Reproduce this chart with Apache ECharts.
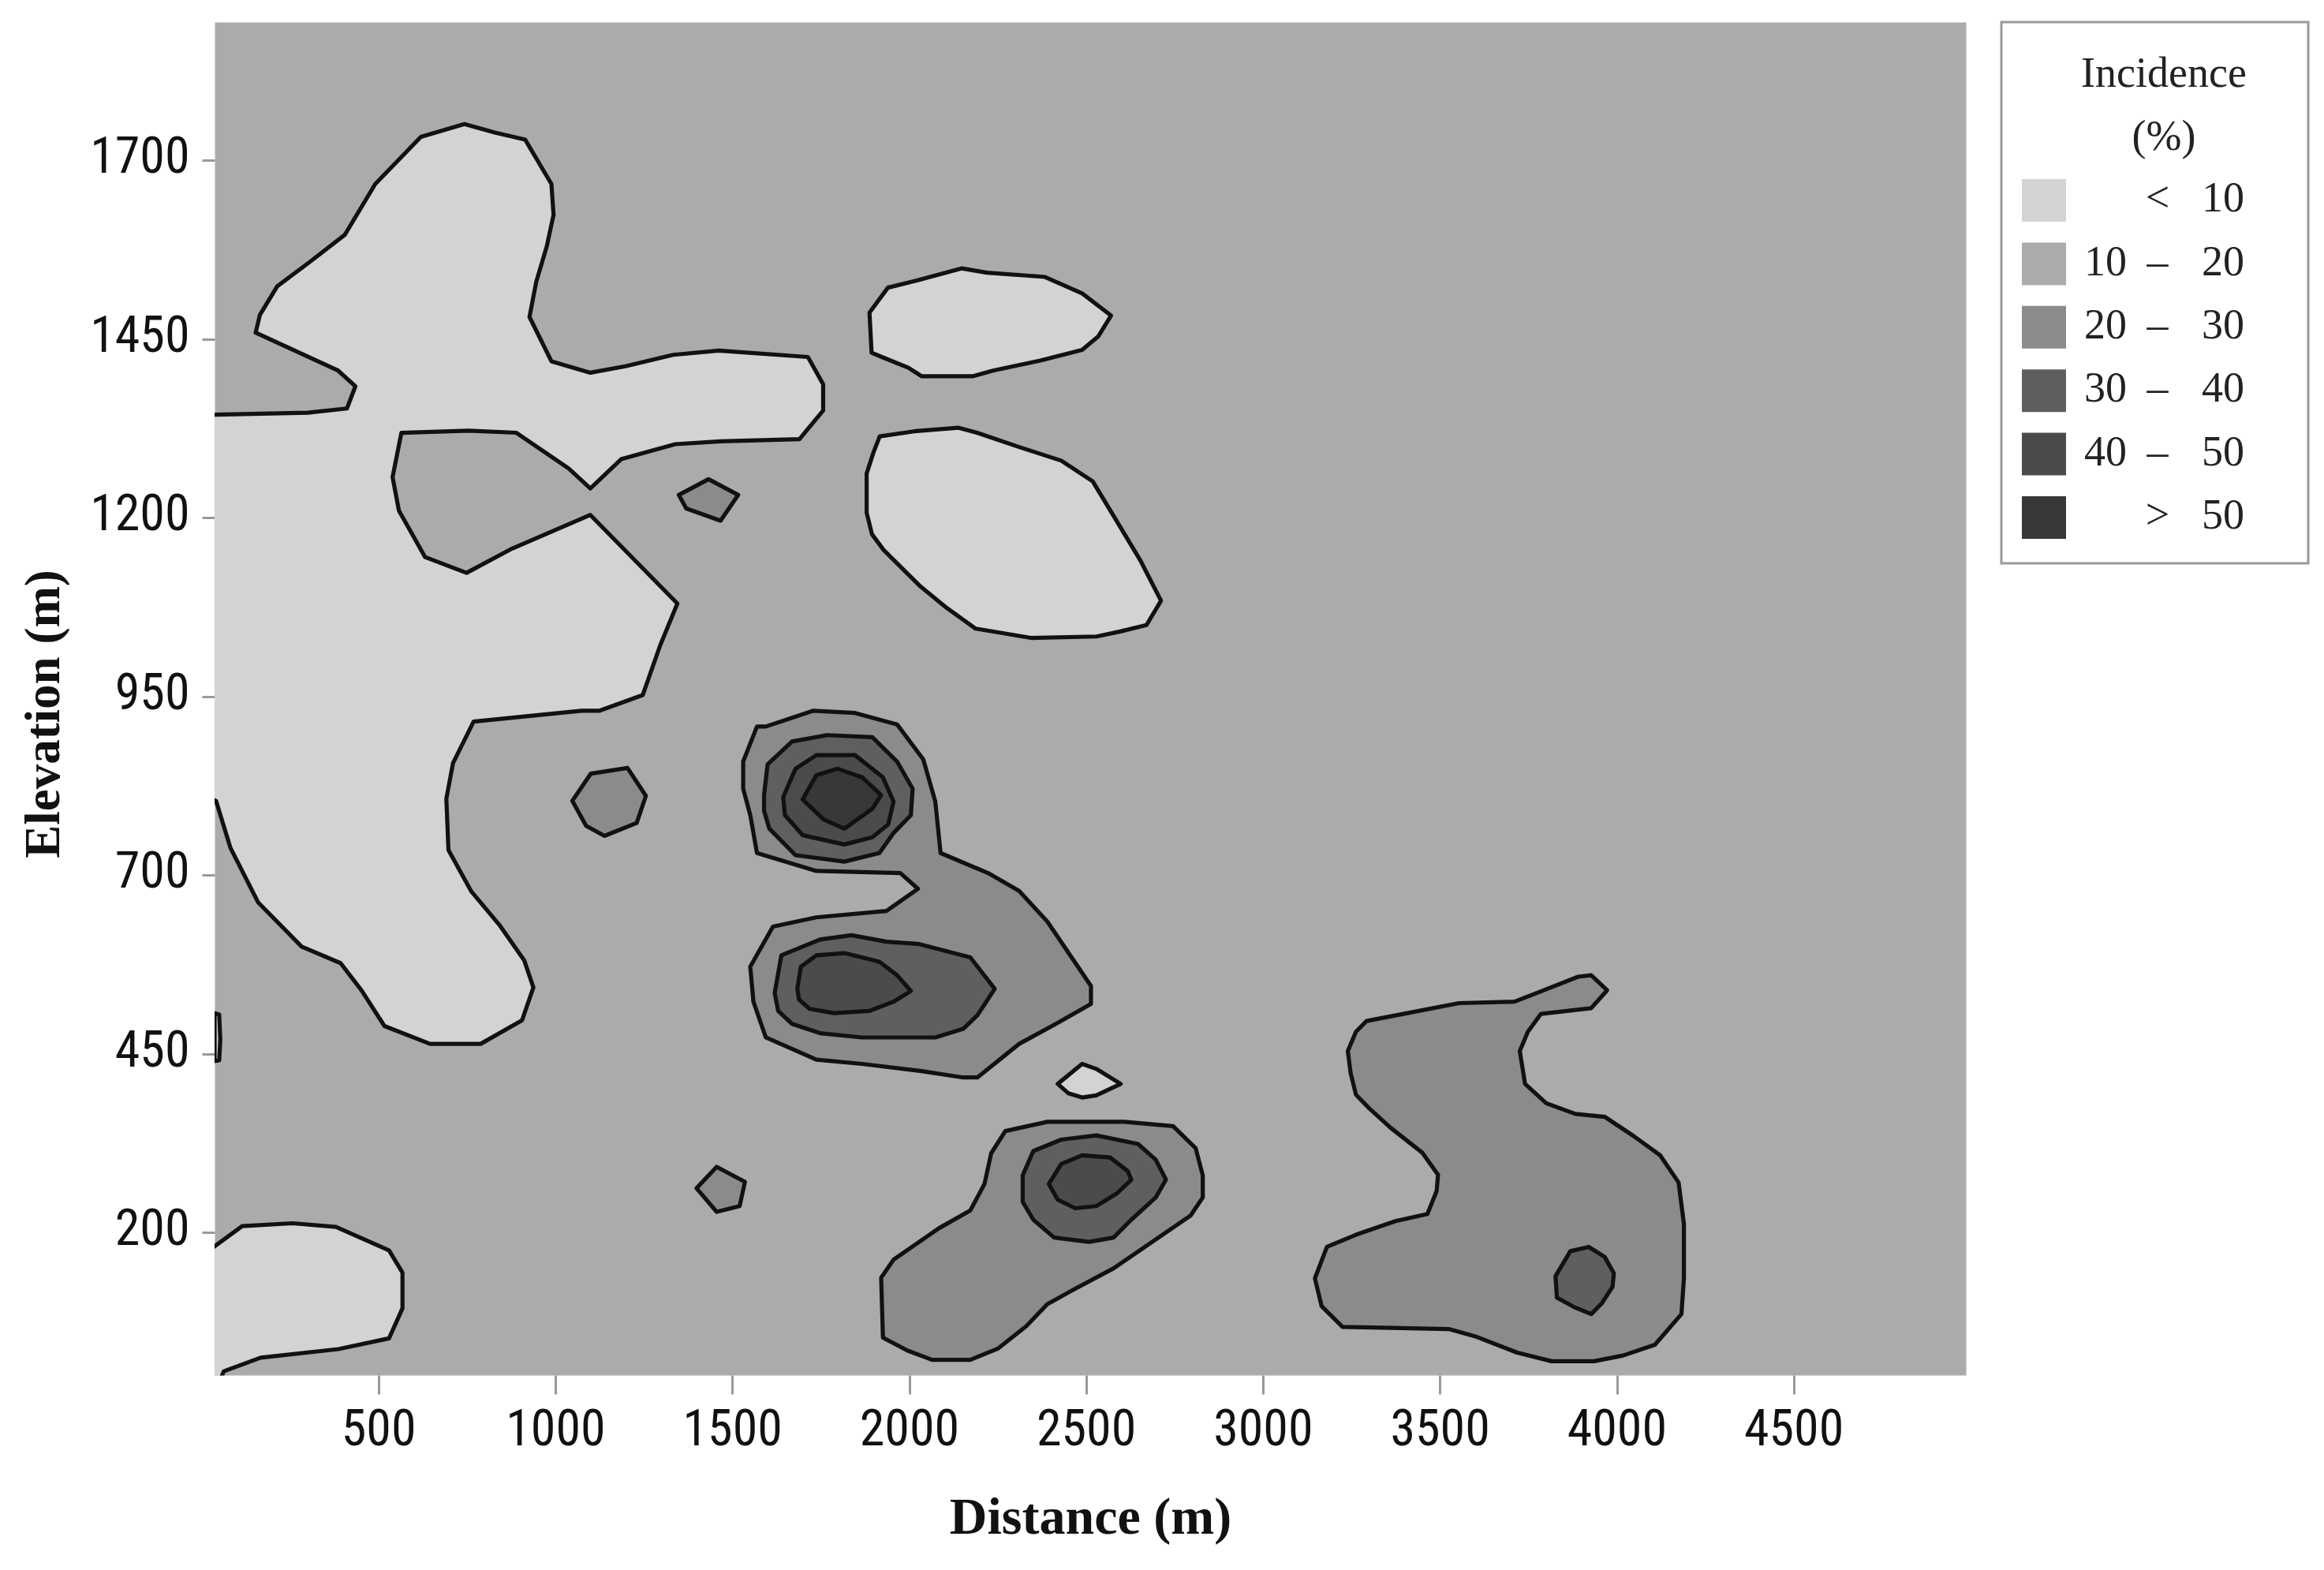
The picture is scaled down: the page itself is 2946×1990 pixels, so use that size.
<!DOCTYPE html>
<html><head><meta charset="utf-8">
<script src="https://cdn.jsdelivr.net/npm/echarts@6/dist/echarts.min.js"></script>
<style>html,body{margin:0;padding:0;background:#fff}#c{width:2946px;height:1990px}</style>
</head><body><div id="c"></div>
<script>
// Axis ticks (m)
const xTicks = [500, 1000, 1500, 2000, 2500, 3000, 3500, 4000, 4500];
const yTicks = [200, 450, 700, 950, 1200, 1450, 1700];
const xRange = [37, 4987];
const yRange = [0, 1893];

// Incidence classes (%)
const levelNames = ['< 10', '10 – 20', '20 – 30', '30 – 40', '40 – 50', '> 50'];
const legendLeft = ['', '10', '20', '30', '40', ''];
const legendSym = ['<', '–', '–', '–', '–', '>'];
const legendRight = ['10', '20', '30', '40', '50', '50'];
const levelColors = ['#d3d3d3', '#ababab', '#8b8b8b', '#5f5f5f', '#4b4b4b', '#383838'];

// Contour regions, [distance m, elevation m]
const below10 = [
  [[20,1344],[299,1347],[410,1353],[434,1384],[385,1406],[152,1459],[164,1484],[213,1524],[305,1558],[404,1596],[490,1667],[619,1733],[742,1751],[828,1739],[914,1729],[988,1667],[994,1624],[975,1580],[945,1530],[926,1481],[988,1419],[1098,1403],[1197,1412],[1332,1428],[1461,1434],[1713,1425],[1756,1387],[1756,1350],[1689,1310],[1467,1307],[1338,1303],[1185,1282],[1098,1241],[1037,1269],[889,1319],[754,1322],[564,1319],[539,1257],[557,1210],[631,1145],[748,1123],[877,1157],[1098,1204],[1344,1080],[1295,1021],[1246,952],[1123,930],[1073,930],[768,915],[710,857],[691,807],[697,735],[762,677],[840,631],[911,581],[937,543],[905,497],[788,464],[645,464],[516,489],[451,539],[392,577],[282,600],[159,662],[81,738],[40,804],[20,808]],
  [[20,175],[114,209],[256,213],[379,208],[529,175],[567,144],[567,94],[529,52],[386,37],[166,25],[62,6],[45,-15],[20,-15]],
  [[1887,1487],[1939,1522],[2021,1532],[2147,1549],[2219,1543],[2383,1537],[2488,1514],[2570,1483],[2534,1454],[2488,1435],[2370,1420],[2236,1406],[2178,1398],[2035,1398],[1997,1410],[1922,1425],[1893,1431]],
  [[1916,1314],[2013,1321],[2139,1326],[2191,1319],[2310,1299],[2429,1280],[2518,1251],[2585,1196],[2652,1141],[2711,1084],[2670,1050],[2596,1041],[2529,1034],[2343,1032],[2187,1045],[2105,1074],[2031,1104],[1927,1155],[1894,1177],[1879,1207],[1879,1262],[1898,1291]],
  [[2419,408],[2488,436],[2528,429],[2597,408],[2528,392],[2488,389],[2449,395]],
  [[36,507],[49,505],[52,470],[49,441],[36,440]]
];
const from20to30 = [
  [[1530,859],[1569,908],[1594,908],[1727,930],[1846,927],[1965,911],[2039,862],[2073,803],[2088,731],[2222,703],[2310,678],[2390,635],[2513,545],[2513,520],[2414,492],[2310,464],[2192,417],[2152,417],[2034,426],[1866,436],[1737,442],[1594,473],[1559,523],[1550,572],[1614,628],[1737,641],[1935,650],[2024,681],[1974,703],[1737,706],[1569,731],[1550,784],[1530,821]],
  [[2271,342],[2390,355],[2607,355],[2745,349],[2809,318],[2829,280],[2829,249],[2795,224],[2686,187],[2577,150],[2459,119],[2390,100],[2330,69],[2251,38],[2172,22],[2064,22],[1994,35],[1925,53],[1920,137],[1955,162],[2083,206],[2172,231],[2212,268],[2231,311]],
  [[3292,496],[3396,506],[3553,521],[3710,523],[3793,539],[3890,558],[3927,560],[3972,539],[3927,514],[3785,506],[3748,481],[3725,454],[3740,408],[3800,381],[3882,366],[3965,362],[4047,335],[4122,308],[4174,270],[4189,212],[4189,136],[4182,86],[4107,43],[4017,28],[3935,20],[3815,20],[3718,32],[3598,55],[3524,65],[3337,67],[3224,68],[3165,97],[3146,136],[3180,180],[3262,197],[3374,216],[3464,226],[3490,258],[3494,281],[3449,312],[3359,347],[3299,374],[3262,393],[3247,423],[3239,454],[3262,481]],
  [[1348,1232],[1432,1254],[1516,1232],[1466,1196],[1369,1213]],
  [[1047,804],[1099,842],[1203,850],[1255,811],[1229,773],[1138,755],[1086,769]],
  [[1398,262],[1455,292],[1535,271],[1520,237],[1455,229]]
];
const from30to40 = [
  [[1589,812],[1599,855],[1668,887],[1767,896],[1895,893],[1965,859],[2009,821],[2004,784],[1955,759],[1915,731],[1816,719],[1678,728],[1604,765],[1589,790]],
  [[1619,535],[1638,588],[1747,610],[1836,616],[1935,607],[2024,604],[2172,585],[2241,541],[2192,504],[2152,485],[2073,473],[1866,473],[1747,479],[1668,492],[1629,510]],
  [[2320,280],[2350,314],[2429,330],[2528,336],[2646,324],[2696,302],[2725,274],[2696,249],[2627,218],[2577,193],[2508,187],[2409,193],[2350,218],[2320,243]],
  [[3868,174],[3920,180],[3965,166],[3991,143],[3987,124],[3957,101],[3927,86],[3882,95],[3830,109],[3826,139]]
];
const from40to50 = [
  [[1643,809],[1678,849],[1737,868],[1846,868],[1925,837],[1955,803],[1940,771],[1895,753],[1816,743],[1698,756],[1648,784]],
  [[1683,541],[1693,572],[1737,588],[1816,591],[1915,579],[1965,560],[2004,538],[1955,523],[1886,510],[1787,507],[1718,513],[1688,526]],
  [[2394,268],[2429,296],[2488,308],[2567,305],[2617,286],[2627,274],[2587,255],[2528,237],[2469,234],[2419,246]]
];
const above50 = [
  [[1698,806],[1737,840],[1797,849],[1866,837],[1920,812],[1895,793],[1816,765],[1757,778]]
];

const levelPolys = [below10, [], from20to30, from30to40, from40to50, above50];

const chart = echarts.init(document.getElementById('c'), null, {renderer: 'canvas'});

const sansNarrow = "'Liberation Sans Narrow', 'Roboto Condensed', 'DejaVu Sans Condensed', 'Roboto', sans-serif";
const serif = "'Liberation Serif', 'DejaVu Serif', serif";

const series = levelNames.map((name, li) => {
  const polys = levelPolys[li];
  return {
    type: 'custom',
    name: name,
    coordinateSystem: 'cartesian2d',
    clip: true,
    silent: true,
    animation: false,
    z: 2 + li,
    itemStyle: {color: levelColors[li]},
    data: polys.map(p => p[0]),
    renderItem: function (params, api) {
      const poly = polys[params.dataIndex];
      return {
        type: 'polygon',
        shape: {points: poly.map(pt => api.coord(pt))},
        style: {fill: levelColors[li], stroke: '#111', lineWidth: 5.2, lineJoin: 'round'}
      };
    }
  };
});

const richCols = {
  a: {width: 90, align: 'center', fontSize: 54, fontFamily: serif, color: '#222', lineHeight: 54},
  b: {width: 42, align: 'center', fontSize: 54, fontFamily: serif, color: '#222', lineHeight: 54},
  c: {width: 124, align: 'center', fontSize: 54, fontFamily: serif, color: '#222', lineHeight: 54}
};

chart.setOption({
  backgroundColor: '#ffffff',
  animation: false,
  grid: {
    left: 272.5, top: 28.5, width: 2220, height: 1715,
    show: true, backgroundColor: levelColors[1], borderWidth: 0,
    containLabel: false, outerBoundsMode: 'none'
  },
  xAxis: {
    type: 'value', min: xRange[0], max: xRange[1],
    name: 'Distance (m)', nameLocation: 'middle', nameGap: 150,
    nameTextStyle: {fontFamily: serif, fontWeight: 'bold', fontSize: 66, color: '#111'},
    axisLine: {show: false},
    splitLine: {show: false},
    axisTick: {show: true, customValues: xTicks, length: 24, lineStyle: {color: '#999', width: 3}},
    axisLabel: {customValues: xTicks, margin: 40, fontFamily: sansNarrow, fontSize: 64, color: '#111',
                formatter: v => String(v)}
  },
  yAxis: {
    type: 'value', min: yRange[0], max: yRange[1],
    name: 'Elevation (m)', nameLocation: 'middle', nameGap: 182, nameRotate: 90,
    nameTextStyle: {fontFamily: serif, fontWeight: 'bold', fontSize: 63, color: '#111', padding: [0, 38, 0, 0]},
    axisLine: {show: false},
    splitLine: {show: false},
    axisTick: {show: true, customValues: yTicks, length: 16, lineStyle: {color: '#999', width: 3}},
    axisLabel: {customValues: yTicks, margin: 32, fontFamily: sansNarrow, fontSize: 64, color: '#111',
                formatter: v => String(v)}
  },
  legend: {
    orient: 'vertical', left: 2563, top: 227,
    itemWidth: 56, itemHeight: 54, itemGap: 26.4, icon: 'rect',
    selectedMode: false, padding: 0,
    data: levelNames.map((n, i) => ({name: n, itemStyle: {color: levelColors[i], borderWidth: 0}})),
    formatter: function (name) {
      const i = levelNames.indexOf(name);
      return '{a|' + (legendLeft[i] || ' ') + '}{b|' + legendSym[i] + '}{c|' + legendRight[i] + '}';
    },
    textStyle: {fontFamily: serif, fontSize: 54, color: '#222', lineHeight: 54, rich: richCols}
  },
  graphic: [
    {type: 'rect', z: 0, shape: {x: 2537, y: 28, width: 389, height: 686},
     style: {fill: '#fff', stroke: '#9a9a9a', lineWidth: 3}},
    {type: 'text', z: 1, x: 2743, y: 96,
     style: {text: 'Incidence', fontFamily: serif, fontSize: 54, fill: '#222', align: 'center', verticalAlign: 'middle'}},
    {type: 'text', z: 1, x: 2743, y: 176,
     style: {text: '(%)', fontFamily: serif, fontSize: 54, fill: '#222', align: 'center', verticalAlign: 'middle'}}
  ],
  series: series
});
</script>
</body></html>
